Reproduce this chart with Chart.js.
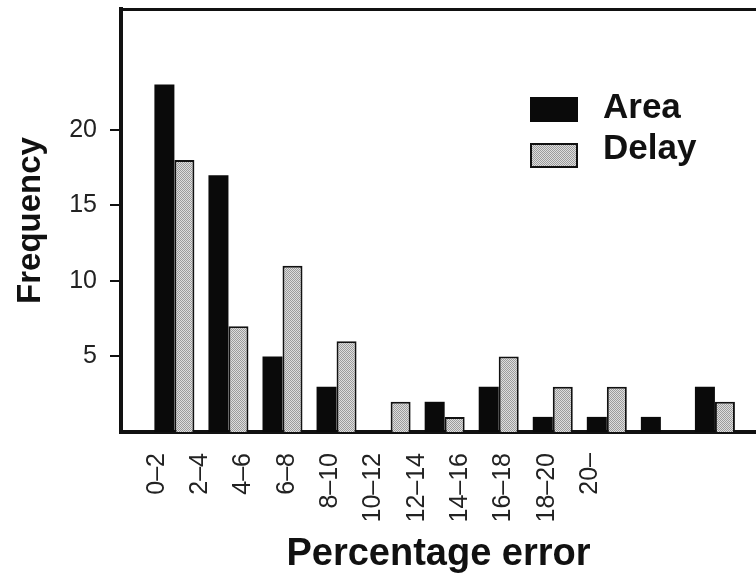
<!DOCTYPE html>
<html lang="en">
<head>
<meta charset="UTF-8" />
<title>Percentage error histogram</title>
<script src="https://cdn.jsdelivr.net/npm/chart.js"></script>
<style>
  body { margin: 0; background: #fff; }
  #wrap { width: 756px; height: 577px; }
</style>
</head>
<body>
<div id="wrap"><canvas id="errChart" width="756" height="577"></canvas></div>
<script>
const categories = ["0–2", "2–4", "4–6", "6–8", "8–10", "10–12", "12–14", "14–16", "16–18", "18–20", "20–"]
const areaValues = [23, 17, 5, 3, 0, 2, 3, 1, 1, 1, 3]
const delayValues = [18, 7, 11, 6, 2, 1, 5, 3, 3, 0, 2]
const yTicks = [5, 10, 15, 20]
const seriesNames = ["Area", "Delay"]

const family = '"Liberation Sans", Arial, Helvetica, sans-serif'
const ink = "#111"

// fine grey dither used for the Delay bars
function stipple() {
  const c = document.createElement("canvas")
  c.width = 2
  c.height = 2
  const g = c.getContext("2d")
  g.fillStyle = "#dedede"
  g.fillRect(0, 0, 2, 2)
  g.fillStyle = "#9c9c9c"
  g.fillRect(0, 0, 1, 1)
  g.fillRect(1, 1, 1, 1)
  return g.createPattern(c, "repeat")
}

// legend sits inside the plot, upper right
const insideLegend = {
  id: "insideLegend",
  afterDatasetsDraw(chart) {
    const { ctx, chartArea } = chart
    const x = chartArea.left + 409
    const y0 = chartArea.top + 88
    chart.data.datasets.forEach((ds, i) => {
      const y = y0 + i * 46
      ctx.save()
      ctx.fillStyle = ds.backgroundColor
      ctx.fillRect(x, y, 48, 25)
      if (ds.borderWidth) {
        ctx.lineWidth = ds.borderWidth
        ctx.strokeStyle = ds.borderColor
        ctx.strokeRect(x + 1, y + 1, 46, 23)
      }
      ctx.fillStyle = ink
      ctx.font = "bold 35px " + family
      ctx.textBaseline = "alphabetic"
      ctx.fillText(ds.label, x + 73, y0 + 21 + i * 41)
      ctx.restore()
    })
  },
}

const ctx = document.getElementById("errChart").getContext("2d")
new Chart(ctx, {
  type: "bar",
  data: {
    datasets: [
      {
        label: seriesNames[0],
        data: areaValues.map((v, i) => ({ x: i, y: v })),
        backgroundColor: "#0a0a0a",
        borderWidth: 0,
        xAxisID: "xb",
        yAxisID: "y",
      },
      {
        label: seriesNames[1],
        data: delayValues.map((v, i) => ({ x: i, y: v })),
        backgroundColor: stipple(),
        borderColor: ink,
        borderWidth: 2,
        xAxisID: "xb",
        yAxisID: "y",
      },
    ],
  },
  options: {
    responsive: false,
    animation: false,
    layout: { padding: { top: 9, left: 0, right: 0, bottom: 0 } },
    datasets: { bar: { categoryPercentage: 0.74, barPercentage: 1.0 } },
    plugins: { legend: { display: false }, tooltip: { enabled: false } },
    scales: {
      xb: {
        type: "linear",
        position: "top",
        offset: false,
        min: -0.988,
        max: 10.76,
        ticks: { display: false },
        grid: { display: false, offset: false },
        border: { display: true, width: 3, color: ink },
        afterFit: (axis) => {
          axis.height = 0
          axis.paddingLeft = 0
          axis.paddingRight = 0
        },
      },
      x: {
        type: "linear",
        position: "bottom",
        offset: false,
        min: -0.83,
        max: 13.83,
        afterBuildTicks: (axis) => {
          axis.ticks = categories.map((c, i) => ({ value: i }))
        },
        afterFit: (axis) => {
          axis.height = 145
          axis.paddingLeft = 0
          axis.paddingRight = 0
        },
        grid: { display: false, offset: false },
        border: { display: true, width: 4, color: ink },
        ticks: {
          autoSkip: false,
          minRotation: 90,
          maxRotation: 90,
          padding: 13,
          color: "#222",
          font: { size: 25, family: family },
          callback: (v) => categories[v],
        },
        title: {
          display: true,
          text: "Percentage error",
          color: ink,
          font: { size: 38, weight: "bold", family: family },
          padding: { top: 0, bottom: 0 },
        },
      },
      y: {
        min: 0,
        max: 28,
        afterBuildTicks: (axis) => {
          axis.ticks = yTicks.map((v) => ({ value: v }))
        },
        afterFit: (axis) => {
          axis.width = 121
          axis.paddingTop = 0
          axis.paddingBottom = 0
        },
        grid: { drawOnChartArea: false, drawTicks: true, tickLength: 11, lineWidth: 2, color: ink },
        border: { display: true, width: 4, color: ink },
        ticks: { padding: 13, color: "#222", font: { size: 25, family: family } },
        title: {
          display: true,
          text: "Frequency",
          color: ink,
          font: { size: 33, weight: "bold", family: family },
          padding: { top: 11, bottom: 0 },
        },
      },
    },
  },
  plugins: [insideLegend],
})
</script>
</body>
</html>
